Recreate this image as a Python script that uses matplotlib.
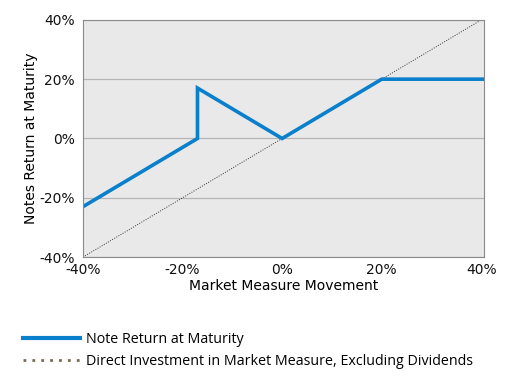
import matplotlib
matplotlib.use('Agg')
import matplotlib.pyplot as plt
from matplotlib.lines import Line2D
from matplotlib.ticker import FuncFormatter

# Note payoff corners (market move %, note return %)
note_x = [-40, -17, -17, 0, 20, 40.5]
note_y = [-23, 0, 17, 0, 20, 20]

# Direct investment reference line
direct_x = [-40, 40]
direct_y = [-40, 40]

ticks = [-40, -20, 0, 20, 40]
blue = '#0a7fcc'

fig = plt.figure(figsize=(5.12, 3.89), dpi=100)
ax = fig.add_axes([0.162, 0.339, 0.783, 0.610])
ax.set_facecolor('#e9e9e9')

ax.plot(direct_x, direct_y, color='#333333', linestyle=(0, (1, 1.5)), linewidth=0.7)
ax.plot(note_x, note_y, color=blue, linewidth=2.6, solid_joinstyle='miter')

ax.set_xlim(-40, 40.5)
ax.set_ylim(-40, 40)
ax.set_xticks(ticks)
ax.set_yticks(ticks)
pct = FuncFormatter(lambda v, p: f'{v:.0f}%')
ax.xaxis.set_major_formatter(pct)
ax.yaxis.set_major_formatter(pct)
ax.tick_params(axis='x', length=0, labelsize=10, pad=4, colors='#111111')
ax.tick_params(axis='y', length=0, labelsize=10, pad=6, colors='#111111')
ax.grid(axis='y', color='#b5b5b5', linewidth=0.9)
ax.set_axisbelow(True)
for s in ax.spines.values():
    s.set_color('#8a8a8a')

ax.set_xlabel('Market Measure Movement', fontsize=10, labelpad=2)
ax.set_ylabel('Notes Return at Maturity', fontsize=10, labelpad=1)

handles = [
    Line2D([], [], color=blue, linewidth=3),
    Line2D([], [], color='#7a6a55', linestyle=(0, (1, 2.2)), linewidth=2),
]
labels = ['Note Return at Maturity',
          'Direct Investment in Market Measure, Excluding Dividends']
fig.legend(handles, labels, loc='upper left', bbox_to_anchor=(0.02, 0.18),
           frameon=False, handlelength=4.0, handletextpad=0.4,
           labelspacing=0.5, prop={'family': 'Open Sans', 'size': 10.3})

fig.savefig('out.png', dpi=100)
